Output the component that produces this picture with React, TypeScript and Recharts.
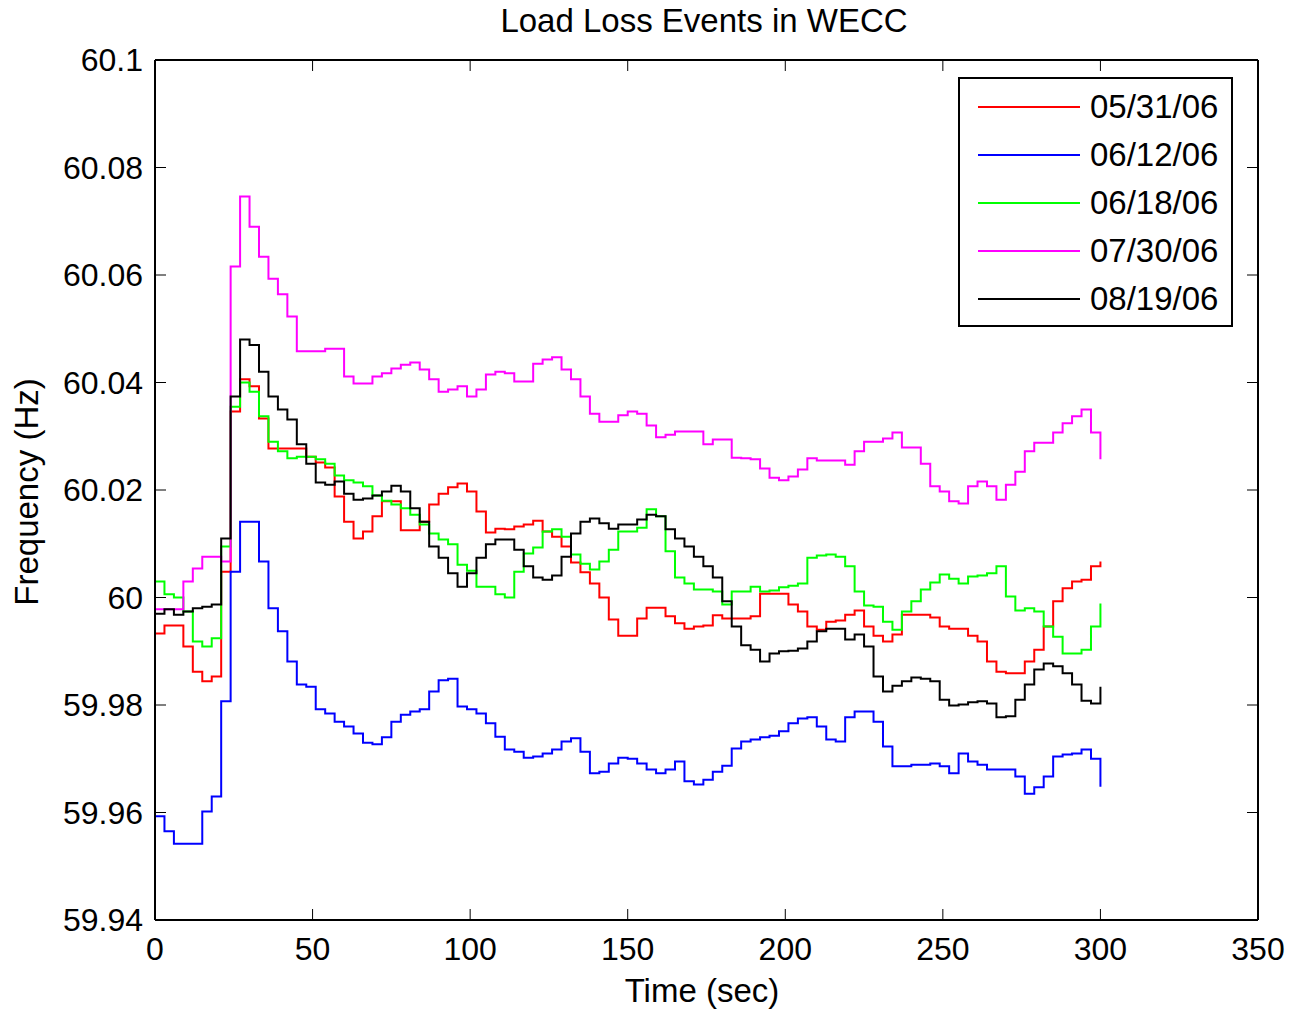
// Frequency response of five WECC load-loss events, MATLAB-style figure.
// Boxed axes with inward ticks on all four sides, step traces, opaque legend.

import { Line, LineChart, XAxis, YAxis } from 'recharts'

const FONT = '"Liberation Sans", Arial, Helvetica, sans-serif'

// seconds since the event
const TIME = [
  0, 3, 6, 9, 12, 15, 18, 21, 24, 27,
  30, 33, 36, 39, 42, 45, 48, 51, 54, 57,
  60, 63, 66, 69, 72, 75, 78, 81, 84, 87,
  90, 93, 96, 99, 102, 105, 108, 111, 114, 117,
  120, 123, 126, 129, 132, 135, 138, 141, 144, 147,
  150, 153, 156, 159, 162, 165, 168, 171, 174, 177,
  180, 183, 186, 189, 192, 195, 198, 201, 204, 207,
  210, 213, 216, 219, 222, 225, 228, 231, 234, 237,
  240, 243, 246, 249, 252, 255, 258, 261, 264, 267,
  270, 273, 276, 279, 282, 285, 288, 291, 294, 297,
  300,
]

// Hz
const EVENT_0531 = [
  59.9933, 59.9948, 59.9948, 59.9909, 59.9862, 59.9844, 59.9853, 60.0048, 60.0346, 60.0406,
  60.0393, 60.0333, 60.0277, 60.0277, 60.0277, 60.0277, 60.0262, 60.0251, 60.0242, 60.0188,
  60.0141, 60.011, 60.0123, 60.0151, 60.0179, 60.0179, 60.0125, 60.0125, 60.0141, 60.0173,
  60.0193, 60.0205, 60.0212, 60.0197, 60.016, 60.0121, 60.0128, 60.0127, 60.0132, 60.0136,
  60.0143, 60.0123, 60.0113, 60.0095, 60.0065, 60.0047, 60.0026, 60.0, 59.9959, 59.9929,
  59.9929, 59.9961, 59.9981, 59.9981, 59.9965, 59.9952, 59.9942, 59.9946, 59.9948, 59.9967,
  59.9961, 59.9961, 59.9961, 59.9965, 60.0007, 60.0007, 60.0007, 59.9987, 59.9974, 59.9946,
  59.994, 59.9955, 59.9957, 59.9968, 59.9976, 59.9946, 59.9929, 59.9918, 59.9931, 59.9968,
  59.9968, 59.9968, 59.9963, 59.9946, 59.9942, 59.9942, 59.9929, 59.9918, 59.9881, 59.9862,
  59.9859, 59.9859, 59.9881, 59.9903, 59.9946, 59.9993, 60.0017, 60.003, 60.0033, 60.0058,
  60.0067,
]

const EVENT_0612 = [
  59.9593, 59.9565, 59.9542, 59.9542, 59.9542, 59.9602, 59.963, 59.9807, 60.0048, 60.0141,
  60.0141, 60.0067, 59.998, 59.9937, 59.9881, 59.9838, 59.9834, 59.9792, 59.9784, 59.9769,
  59.976, 59.9747, 59.973, 59.9727, 59.974, 59.9769, 59.9782, 59.9788, 59.9792, 59.9825,
  59.9846, 59.9849, 59.9797, 59.9792, 59.9784, 59.9766, 59.9741, 59.9717, 59.9713, 59.9702,
  59.9704, 59.971, 59.9717, 59.9732, 59.9738, 59.9713, 59.9673, 59.9676, 59.9691, 59.9702,
  59.97, 59.9691, 59.968, 59.9673, 59.968, 59.9695, 59.9658, 59.9652, 59.9661, 59.9676,
  59.9687, 59.9719, 59.9732, 59.9736, 59.974, 59.9743, 59.9751, 59.9766, 59.9775, 59.9777,
  59.976, 59.9736, 59.9732, 59.9777, 59.9788, 59.9788, 59.9769, 59.9723, 59.9686, 59.9686,
  59.9689, 59.9689, 59.9691, 59.9686, 59.9673, 59.971, 59.9695, 59.9689, 59.968, 59.968,
  59.968, 59.9667, 59.9635, 59.9647, 59.9667, 59.9704, 59.9708, 59.971, 59.9717, 59.97,
  59.9648,
]

const EVENT_0618 = [
  60.003, 60.0006, 60.0, 59.9974, 59.9918, 59.9909, 59.9924, 60.0095, 60.0355, 60.04,
  60.0383, 60.0337, 60.029, 60.0272, 60.0259, 60.0262, 60.0262, 60.0257, 60.0249, 60.0227,
  60.0218, 60.0214, 60.0207, 60.019, 60.018, 60.0173, 60.0166, 60.0154, 60.0136, 60.0119,
  60.0108, 60.0099, 60.0061, 60.005, 60.002, 60.002, 60.0006, 60.0, 60.0048, 60.0082,
  60.0093, 60.0123, 60.0127, 60.0113, 60.008, 60.0063, 60.0052, 60.0067, 60.0089, 60.0123,
  60.0123, 60.013, 60.0164, 60.0151, 60.0086, 60.0037, 60.0026, 60.0015, 60.0015, 60.0011,
  59.9987, 60.0011, 60.0011, 60.002, 60.0011, 60.0013, 60.0019, 60.0022, 60.0026, 60.0074,
  60.0078, 60.008, 60.0076, 60.0058, 60.0011, 59.9985, 59.9983, 59.9955, 59.994, 59.9974,
  59.9993, 60.0015, 60.0028, 60.0043, 60.0035, 60.0026, 60.0039, 60.0041, 60.0045, 60.0058,
  60.0002, 59.9976, 59.998, 59.9974, 59.9946, 59.9927, 59.9896, 59.9896, 59.9903, 59.9946,
  59.9989,
]

const EVENT_0730 = [
  59.9978, 59.9978, 59.9978, 60.003, 60.0054, 60.0076, 60.0076, 60.0067, 60.0616, 60.0746,
  60.069, 60.0634, 60.0593, 60.0564, 60.0523, 60.0458, 60.0458, 60.0458, 60.0463, 60.0463,
  60.0411, 60.0398, 60.0398, 60.0411, 60.0417, 60.0426, 60.0433, 60.0437, 60.0424, 60.0406,
  60.0383, 60.0387, 60.0393, 60.0374, 60.0387, 60.0415, 60.042, 60.0417, 60.0402, 60.0402,
  60.0435, 60.0443, 60.0447, 60.0424, 60.0406, 60.0374, 60.0342, 60.0327, 60.0327, 60.0339,
  60.0346, 60.0342, 60.032, 60.0298, 60.0303, 60.0309, 60.0309, 60.0309, 60.0285, 60.0294,
  60.0294, 60.026, 60.0259, 60.0257, 60.024, 60.0223, 60.0218, 60.0225, 60.0238, 60.0259,
  60.0255, 60.0255, 60.0255, 60.0247, 60.0272, 60.029, 60.029, 60.0296, 60.0307, 60.0279,
  60.0279, 60.0249, 60.0207, 60.0197, 60.0179, 60.0175, 60.0207, 60.0216, 60.0207, 60.0182,
  60.021, 60.0234, 60.0272, 60.0288, 60.0288, 60.0307, 60.0324, 60.0337, 60.035, 60.0307,
  60.0257,
]

const EVENT_0819 = [
  59.997, 59.9978, 59.9968, 59.9974, 59.998, 59.9983, 59.9987, 60.011, 60.0374, 60.048,
  60.047, 60.042, 60.0374, 60.035, 60.0331, 60.0285, 60.0249, 60.0214, 60.021, 60.0216,
  60.0193, 60.0182, 60.0184, 60.019, 60.0197, 60.0208, 60.0197, 60.0166, 60.0141, 60.0095,
  60.0074, 60.0045, 60.002, 60.0045, 60.0074, 60.0099, 60.0108, 60.0108, 60.0089, 60.0058,
  60.0037, 60.0033, 60.0041, 60.0076, 60.0119, 60.0141, 60.0147, 60.0138, 60.0128, 60.0136,
  60.0136, 60.0145, 60.0154, 60.0151, 60.0127, 60.011, 60.0095, 60.0076, 60.0058, 60.0037,
  59.9993, 59.9946, 59.9911, 59.9903, 59.9881, 59.9896, 59.99, 59.9901, 59.9905, 59.9918,
  59.9937, 59.9942, 59.9942, 59.9922, 59.9931, 59.9909, 59.9853, 59.9825, 59.9836, 59.9844,
  59.9851, 59.9849, 59.9844, 59.981, 59.9799, 59.9801, 59.9805, 59.9807, 59.9803, 59.9777,
  59.9779, 59.981, 59.9838, 59.9866, 59.9877, 59.9872, 59.9859, 59.9838, 59.9808, 59.9803,
  59.9834,
]

const X_TICKS = [0, 50, 100, 150, 200, 250, 300, 350]
const Y_TICKS = [59.94, 59.96, 59.98, 60, 60.02, 60.04, 60.06, 60.08, 60.1]

const SERIES = [
  { key: 'e0531', name: '05/31/06', color: '#ff0000', values: EVENT_0531 },
  { key: 'e0612', name: '06/12/06', color: '#0000ff', values: EVENT_0612 },
  { key: 'e0618', name: '06/18/06', color: '#00ff00', values: EVENT_0618 },
  { key: 'e0730', name: '07/30/06', color: '#ff00ff', values: EVENT_0730 },
  { key: 'e0819', name: '08/19/06', color: '#000000', values: EVENT_0819 },
]

const rows = TIME.map((t, i) => {
  const row: Record<string, number> = { t }
  SERIES.forEach((s) => {
    row[s.key] = s.values[i]
  })
  return row
})

const TICK_LEN = 11
const tickText = { fontFamily: FONT, fontSize: 32, fill: '#000' }
const titleText = { fontFamily: FONT, fontSize: 33, fill: '#000' }

function BottomTick(p: any) {
  return (
    <g>
      <line x1={p.x} y1={p.y} x2={p.x} y2={p.y - TICK_LEN} stroke="#000" strokeWidth={1} />
      <text x={p.x} y={p.y + 40} textAnchor="middle" {...tickText}>
        {p.payload.value}
      </text>
    </g>
  )
}

function TopTick(p: any) {
  return <line x1={p.x} y1={p.y} x2={p.x} y2={p.y + TICK_LEN} stroke="#000" strokeWidth={1} />
}

function LeftTick(p: any) {
  return (
    <g>
      <line x1={p.x} y1={p.y} x2={p.x + TICK_LEN} y2={p.y} stroke="#000" strokeWidth={1} />
      <text x={p.x - 12} y={p.y + 11} textAnchor="end" {...tickText}>
        {String(p.payload.value)}
      </text>
    </g>
  )
}

function RightTick(p: any) {
  return <line x1={p.x} y1={p.y} x2={p.x - TICK_LEN} y2={p.y} stroke="#000" strokeWidth={1} />
}

function LegendBox() {
  return (
    <div
      style={{
        position: 'absolute',
        left: 958,
        top: 77,
        width: 275,
        height: 250,
        boxSizing: 'border-box',
        border: '2px solid #000',
        background: '#fff',
        fontFamily: FONT,
        fontSize: 33,
        color: '#000',
      }}
    >
      {SERIES.map((s, i) => (
        <div
          key={s.key}
          style={{ position: 'absolute', left: 18, top: 6 + i * 48, height: 44, display: 'flex', alignItems: 'center' }}
        >
          <span style={{ display: 'inline-block', width: 102, height: 2, background: s.color }} />
          <span style={{ marginLeft: 10, lineHeight: '44px' }}>{s.name}</span>
        </div>
      ))}
    </div>
  )
}

export default function App() {
  return (
    <div style={{ position: 'absolute', left: 0, top: 0, width: 1291, height: 1010, background: '#fff' }}>
      <LineChart width={1291} height={1010} data={rows} margin={{ top: 30, right: 0, bottom: 0, left: 0 }}>
        <XAxis
          dataKey="t"
          type="number"
          domain={[0, 350]}
          ticks={X_TICKS}
          allowDataOverflow
          height={90}
          tickSize={0}
          tickMargin={0}
          tickLine={false}
          axisLine={{ stroke: '#000', strokeWidth: 2 }}
          tick={<BottomTick />}
        />
        <XAxis
          xAxisId="top"
          orientation="top"
          dataKey="t"
          type="number"
          domain={[0, 350]}
          ticks={X_TICKS}
          allowDataOverflow
          height={30}
          tickSize={0}
          tickMargin={0}
          tickLine={false}
          axisLine={{ stroke: '#000', strokeWidth: 2 }}
          tick={<TopTick />}
        />
        <YAxis
          type="number"
          domain={[59.94, 60.1]}
          ticks={Y_TICKS}
          allowDataOverflow
          width={155}
          tickSize={0}
          tickMargin={0}
          tickLine={false}
          axisLine={{ stroke: '#000', strokeWidth: 2 }}
          tick={<LeftTick />}
        />
        <YAxis
          yAxisId="right"
          orientation="right"
          type="number"
          domain={[59.94, 60.1]}
          ticks={Y_TICKS}
          allowDataOverflow
          width={33}
          tickSize={0}
          tickMargin={0}
          tickLine={false}
          axisLine={{ stroke: '#000', strokeWidth: 2 }}
          tick={<RightTick />}
        />
        {SERIES.map((s) => (
          <Line
            key={s.key}
            dataKey={s.key}
            name={s.name}
            type="stepAfter"
            stroke={s.color}
            strokeWidth={2}
            dot={false}
            activeDot={false}
            isAnimationActive={false}
          />
        ))}
      </LineChart>
      <svg
        width={1291}
        height={1010}
        style={{ position: 'absolute', left: 0, top: 0, pointerEvents: 'none' }}
      >
        <text x={704} y={32} textAnchor="middle" {...titleText}>
          Load Loss Events in WECC
        </text>
        <text x={702} y={1002} textAnchor="middle" {...titleText}>
          Time (sec)
        </text>
        <text x={38} y={492} textAnchor="middle" transform="rotate(-90 38 492)" {...titleText}>
          Frequency (Hz)
        </text>
      </svg>
      <LegendBox />
    </div>
  )
}
